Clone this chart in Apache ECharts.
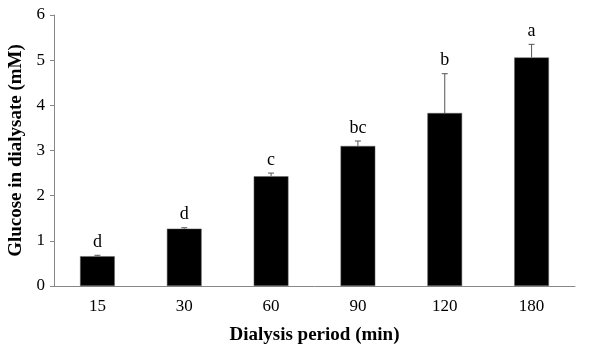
<!DOCTYPE html>
<html>
<head>
<meta charset="utf-8">
<script src="https://cdn.jsdelivr.net/npm/echarts@6/dist/echarts.min.js"></script>
<style>
  html, body { margin: 0; padding: 0; background: #fff; }
  #chart { width: 592px; height: 344px; }
</style>
</head>
<body>
<div id="chart"></div>
<script>
// 数据
var periods = ["15", "30", "60", "90", "120", "180"];
var glucose = [0.66, 1.27, 2.43, 3.10, 3.83, 5.06];
var errUp = [0.02, 0.02, 0.07, 0.11, 0.87, 0.29];
var letters = ["d", "d", "c", "bc", "b", "a"];
var yTicks = [0, 1, 2, 3, 4, 5, 6];

var font = "'Liberation Serif', 'Times New Roman', serif";
var myChart = echarts.init(document.getElementById("chart"));

var errData = glucose.map(function (v, i) {
  return [i, v, v + errUp[i], letters[i]];
});

var option = {
  animation: false,
  grid: {
    left: 54,
    right: 17,
    top: 15,
    bottom: 58,
    outerBoundsMode: "none",
  },
  xAxis: {
    type: "category",
    data: periods,
    name: "Dialysis period (min)",
    nameLocation: "middle",
    nameGap: 40,
    nameTextStyle: {
      fontFamily: font,
      fontSize: 19,
      fontWeight: "bold",
      color: "#000",
    },
    axisTick: { show: false },
    axisLine: { lineStyle: { color: "#888", width: 1 } },
    axisLabel: {
      fontFamily: font,
      fontSize: 17,
      color: "#000",
      margin: 12,
    },
  },
  yAxis: {
    type: "value",
    min: yTicks[0],
    max: yTicks[yTicks.length - 1],
    interval: 1,
    name: "Glucose in dialysate (mM)",
    nameLocation: "middle",
    nameGap: 22,
    nameTextStyle: {
      fontFamily: font,
      fontSize: 19,
      fontWeight: "bold",
      color: "#000",
    },
    axisLine: { show: true, lineStyle: { color: "#888", width: 1 } },
    axisTick: { show: true, length: 4, lineStyle: { color: "#888" } },
    splitLine: { show: false },
    axisLabel: {
      fontFamily: font,
      fontSize: 17,
      color: "#000",
      margin: 9,
    },
  },
  series: [
    {
      type: "bar",
      data: glucose,
      barWidth: "40%",
      itemStyle: { color: "#000", borderColor: "#666", borderWidth: 0.5 },
    },
    {
      // 误差线 + 字母
      type: "custom",
      data: errData,
      z: 5,
      renderItem: function (params, api) {
        var base = api.coord([api.value(0), api.value(1)]);
        var top = api.coord([api.value(0), api.value(2)]);
        var cap = 3;
        var st = { stroke: "#555", lineWidth: 1 };
        return {
          type: "group",
          children: [
            { type: "line", shape: { x1: base[0], y1: base[1], x2: top[0], y2: top[1] }, style: st },
            { type: "line", shape: { x1: top[0] - cap, y1: top[1], x2: top[0] + cap, y2: top[1] }, style: st },
            {
              type: "text",
              x: top[0],
              y: top[1] - 4,
              style: {
                text: letters[params.dataIndex],
                fontFamily: font,
                fontSize: 18,
                fill: "#000",
                align: "center",
                verticalAlign: "bottom",
              },
            },
          ],
        };
      },
    },
  ],
};
myChart.setOption(option);
</script>
</body>
</html>
